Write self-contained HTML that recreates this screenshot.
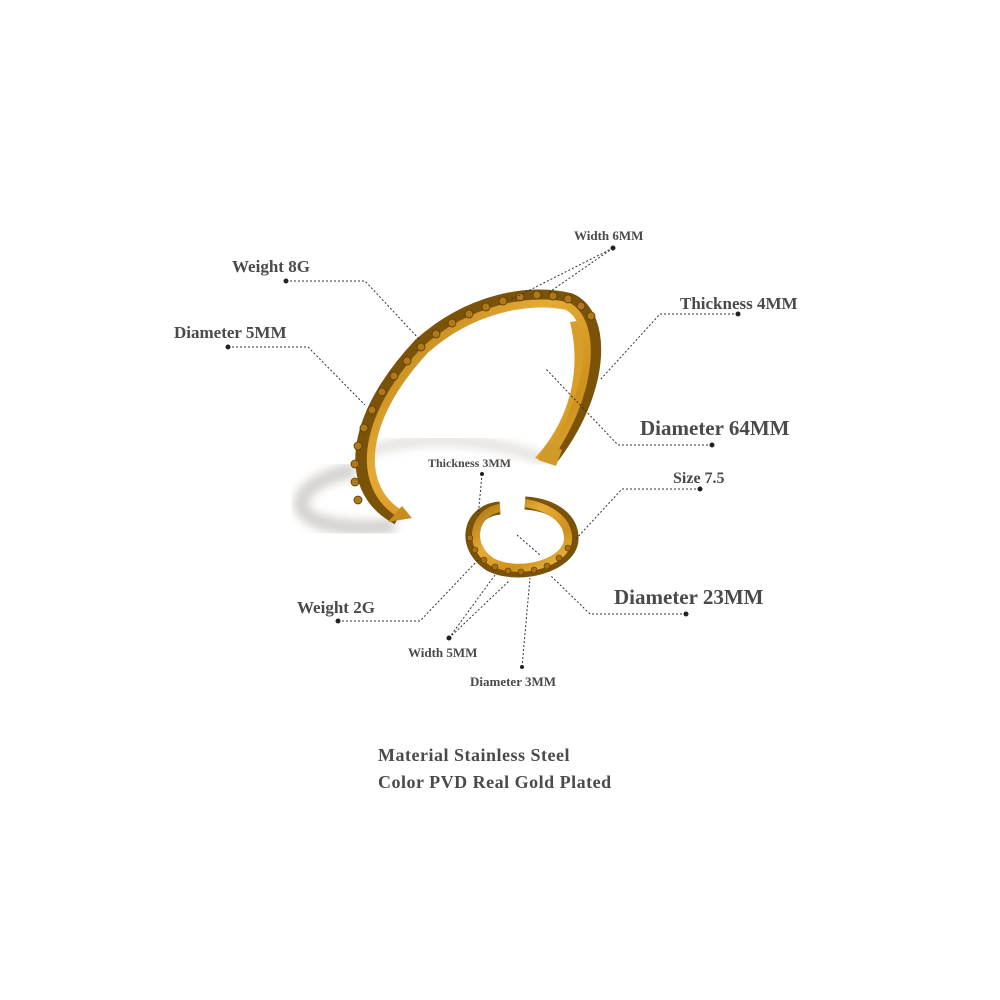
<!DOCTYPE html>
<html><head><style>
html,body{margin:0;padding:0;background:#fff}
svg{display:block}
text{font-family:"Liberation Serif",serif;font-weight:bold;fill:#4a4a4a}
.l{stroke:#333;stroke-width:1;stroke-dasharray:2 2;fill:none}
</style></head><body>
<svg width="1000" height="1000" viewBox="0 0 1000 1000">
<defs>
<linearGradient id="g" x1="0" y1="0" x2="1" y2="1">
<stop offset="0" stop-color="#a8740f"/><stop offset="0.4" stop-color="#e6ab35"/><stop offset="0.7" stop-color="#cf901c"/><stop offset="1" stop-color="#f0c050"/>
</linearGradient>
<filter id="b"><feGaussianBlur stdDeviation="5"/></filter>
</defs>
<!-- shadow -->
<path d="M355 470 C 300 480, 285 510, 320 522 C 350 530, 380 528, 395 525" stroke="#d2cfcc" stroke-width="14" fill="none" filter="url(#b)"/>
<path d="M360 455 C 420 430, 500 440, 550 462" stroke="#e2dfdc" stroke-width="10" fill="none" filter="url(#b)"/>
<!-- bangle inner band on right -->
<path d="M585 320 C 600 360, 590 420, 548 462 L 535 458 C 570 420, 582 370, 570 322 Z" fill="#d99d2a"/>
<!-- bangle -->
<path d="M398 518 C 345 490, 350 420, 420 345 C 470 300, 530 290, 570 300 C 605 315, 605 390, 550 460" stroke="#7a5208" stroke-width="14" fill="none"/>
<path d="M402 515 C 355 488, 360 420, 425 350 C 472 308, 530 298, 567 306 C 596 320, 596 390, 548 458" stroke="url(#g)" stroke-width="8" fill="none"/>
<g fill="#b07818" stroke="#5a3a05" stroke-width="0.8">
<circle cx="358" cy="500" r="4"/><circle cx="355" cy="482" r="4"/><circle cx="355" cy="464" r="4"/><circle cx="358" cy="446" r="4"/><circle cx="364" cy="428" r="4"/><circle cx="372" cy="410" r="4"/><circle cx="382" cy="392" r="4"/><circle cx="394" cy="376" r="4"/><circle cx="407" cy="361" r="4"/><circle cx="421" cy="347" r="4"/><circle cx="436" cy="334" r="4"/><circle cx="452" cy="323" r="4"/><circle cx="469" cy="314" r="4"/><circle cx="486" cy="307" r="4"/><circle cx="503" cy="301" r="4"/><circle cx="520" cy="297" r="4"/><circle cx="537" cy="295" r="4"/><circle cx="553" cy="296" r="4"/><circle cx="568" cy="299" r="4"/><circle cx="581" cy="306" r="4"/><circle cx="591" cy="316" r="4"/>
</g>
<path d="M538 460 L 556 466 L 562 450 L 548 442 Z" fill="#d09a28"/>
<path d="M388 522 L 412 518 L 402 506 Z" fill="#c88c20"/>
<!-- ring -->
<path d="M500 508 C 470 510, 460 545, 490 565 C 520 580, 570 565, 572 540 C 573 520, 555 505, 525 503" stroke="#7a5208" stroke-width="13" fill="none"/>
<path d="M500 508 C 474 512, 466 545, 492 562 C 520 576, 566 563, 568 540 C 569 522, 553 508, 525 503" stroke="url(#g)" stroke-width="8" fill="none"/>
<g fill="#a86f12" stroke="#5a3a05" stroke-width="0.6">
<circle cx="470" cy="538" r="3"/><circle cx="475" cy="550" r="3"/><circle cx="484" cy="560" r="3"/><circle cx="495" cy="567" r="3"/><circle cx="508" cy="571" r="3"/><circle cx="521" cy="572" r="3"/><circle cx="534" cy="570" r="3"/><circle cx="547" cy="566" r="3"/><circle cx="559" cy="558" r="3"/><circle cx="568" cy="548" r="3"/>
</g>
<!-- connectors -->
<g class="l">
<path d="M286 281 H365 L420 340"/>
<path d="M228 347 H308 L365 405"/>
<path d="M613 248 L510 300"/><path d="M613 248 L548 293"/>
<path d="M738 314 H660 L600 380"/>
<path d="M712 445 H618 L545 368"/>
<path d="M482 474 L478 518"/>
<path d="M700 489 H622 L575 540"/>
<path d="M686 614 H590 L550 575"/>
<path d="M338 621 H420 L478 560"/>
<path d="M449 638 L495 575"/><path d="M449 638 L510 580"/>
<path d="M522 667 L530 578"/>
<path d="M517 535 L540 555"/>
</g>
<g fill="#222">
<circle cx="286" cy="281" r="2.5"/><circle cx="228" cy="347" r="2.5"/><circle cx="613" cy="248" r="2.5"/><circle cx="738" cy="314" r="2.5"/><circle cx="712" cy="445" r="2.5"/><circle cx="482" cy="474" r="2"/><circle cx="700" cy="489" r="2.5"/><circle cx="686" cy="614" r="2.5"/><circle cx="338" cy="621" r="2.5"/><circle cx="449" cy="638" r="2.5"/><circle cx="522" cy="667" r="2"/>
</g>
<!-- labels -->
<text x="574" y="240" font-size="13">Width 6MM</text>
<text x="232" y="272" font-size="17">Weight 8G</text>
<text x="680" y="309" font-size="17">Thickness 4MM</text>
<text x="174" y="338" font-size="17">Diameter 5MM</text>
<text x="640" y="435" font-size="21">Diameter 64MM</text>
<text x="428" y="467" font-size="12">Thickness 3MM</text>
<text x="673" y="483" font-size="16">Size 7.5</text>
<text x="614" y="604" font-size="21">Diameter 23MM</text>
<text x="297" y="613" font-size="17">Weight 2G</text>
<text x="408" y="657" font-size="13">Width 5MM</text>
<text x="470" y="686" font-size="13">Diameter 3MM</text>
<text x="378" y="761" font-size="18" letter-spacing="0.5">Material Stainless Steel</text>
<text x="378" y="788" font-size="18" letter-spacing="0.5">Color PVD Real Gold Plated</text>
</svg>
</body></html>
